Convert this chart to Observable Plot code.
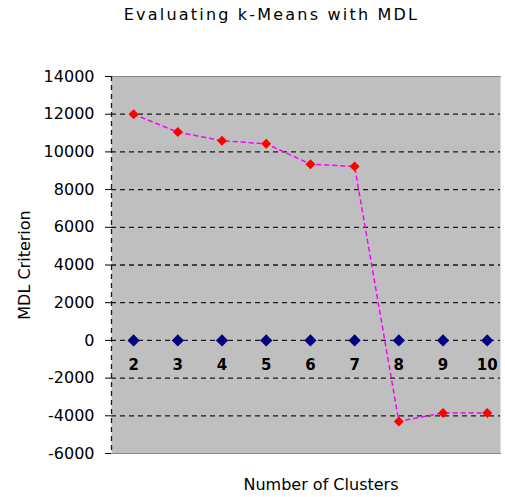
<!DOCTYPE html>
<html>
<head>
<meta charset="utf-8">
<script src="https://cdn.jsdelivr.net/npm/d3@7"></script>
<script src="https://cdn.jsdelivr.net/npm/@observablehq/plot@0.6"></script>
<style>
  html, body { margin: 0; padding: 0; background: #fff; }
  #title { height: 30px; line-height: 30px; font-family: "DejaVu Sans", sans-serif; font-size: 16px; letter-spacing: 2.2px; color: #000; text-align: center; padding-left: 38px; box-sizing: border-box; width: 505px; white-space: nowrap; }
  svg { display: block; }
</style>
</head>
<body>
<div id="title">Evaluating k-Means with MDL</div>
<div id="chart"></div>
<script>
const clusters = [2, 3, 4, 5, 6, 7, 8, 9, 10];
const mdlValues = [12000, 11050, 10590, 10430, 9350, 9230, -4300, -3850, -3850];
const zeroValues = [0, 0, 0, 0, 0, 0, 0, 0, 0];
const yTicks = [-6000, -4000, -2000, 0, 2000, 4000, 6000, 8000, 10000, 12000, 14000];
const gridTicks = [-4000, -2000, 0, 2000, 4000, 6000, 8000, 10000, 12000];

const mdl = clusters.map((k, i) => ({k, v: mdlValues[i]}));
const zero = clusters.map((k, i) => ({k, v: zeroValues[i]}));

const font = "DejaVu Sans, sans-serif";

const chart = Plot.plot({
  width: 505,
  height: 467,
  marginLeft: 111,
  marginRight: 5,
  marginTop: 46,
  marginBottom: 44,
  style: {fontFamily: font, fontSize: "16px", background: "white", color: "#000"},
  x: {type: "linear", domain: [1.5, 10.3], axis: null},
  y: {domain: [-6000, 14000], axis: null},
  marks: [
    Plot.frame({fill: "url(#dots)", stroke: "none"}),
    Plot.frame({anchor: "top", stroke: "#888"}),
    Plot.frame({anchor: "bottom", stroke: "#888"}),
    Plot.ruleY(gridTicks, {stroke: "#1a1a1a", strokeWidth: 1.3, strokeDasharray: "5,4"}),
    Plot.ruleX([1.5], {stroke: "#1a1a1a", strokeWidth: 1.3, strokeDasharray: "5,4"}),
    Plot.axisY(yTicks, {
      tickSize: 6, tickPadding: 11, tickFormat: d => String(d).replace("\u2212", "-"),
      fontSize: 16, stroke: "#000", label: null
    }),
    Plot.text(["MDL Criterion"], {frameAnchor: "left", textAnchor: "middle", dx: -87, rotate: -90, fontSize: 16, letterSpacing: 2.5}),
    Plot.text(["Number of Clusters"], {frameAnchor: "bottom", dx: 15, dy: 36, fontSize: 16, letterSpacing: 2}),
    Plot.dot(zero, {x: "k", y: "v", symbol: "diamond2", r: 5.5, fill: "#000080", stroke: "none"}),
    Plot.text(clusters, {x: d => d, y: 0, dy: 25, text: d => String(d), fontWeight: "bold", fontSize: 15}),
    Plot.line(mdl, {x: "k", y: "v", stroke: "#ff00ff", strokeWidth: 1.5, strokeDasharray: "4,4"}),
    Plot.dot(mdl, {x: "k", y: "v", symbol: "diamond2", r: 4.5, fill: "#ff0000", stroke: "none"})
  ]
});

const ns = "http://www.w3.org/2000/svg";
const defs = document.createElementNS(ns, "defs");
defs.innerHTML = '<pattern id="dots" width="2" height="2" patternUnits="userSpaceOnUse">' +
  '<rect width="2" height="2" fill="#c6c6c6"/>' +
  '<rect width="1" height="1" fill="#a9a9a9"/></pattern>';
chart.insertBefore(defs, chart.firstChild);
document.getElementById("chart").appendChild(chart);
</script>
</body>
</html>
